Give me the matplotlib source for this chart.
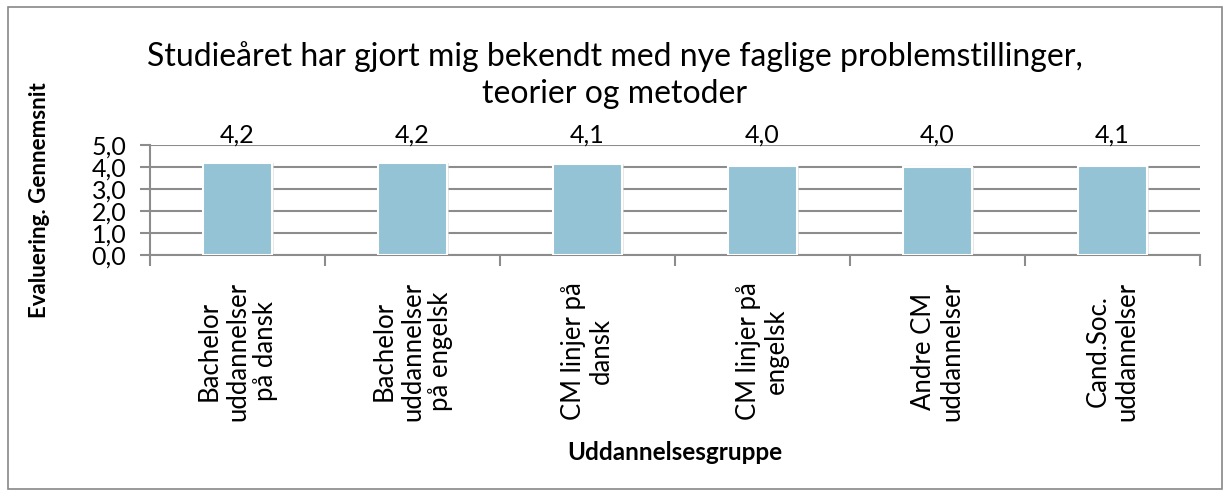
import matplotlib
matplotlib.use("Agg")
import matplotlib.pyplot as plt
from matplotlib.patches import Rectangle
import numpy as np

categories = ["Bachelor\nuddannelser\npå dansk", "Bachelor\nuddannelser\npå engelsk",
              "CM linjer på\ndansk", "CM linjer på\nengelsk",
              "Andre CM\nuddannelser", "Cand.Soc.\nuddannelser"]
values = [4.17, 4.16, 4.12, 4.03, 4.02, 4.06]
value_labels = ["4,2", "4,2", "4,1", "4,0", "4,0", "4,1"]
yticks = [0, 1, 2, 3, 4, 5]
ytick_labels = ["0,0", "1,0", "2,0", "3,0", "4,0", "5,0"]
title = "Studieåret har gjort mig bekendt med nye faglige problemstillinger,\nteorier og metoder"

plt.rcParams['font.family'] = ['Lato', 'DejaVu Sans']

W, H = 1230, 497
fig = plt.figure(figsize=(W/100, H/100), dpi=100)
ax = fig.add_axes([150/W, 1-255/H, 1050/W, 110/H])

x = np.arange(len(categories))
ax.bar(x+0.012, values, width=0.39, color="#d9d9d9", alpha=0.6, zorder=2, linewidth=0)
ax.bar(x, values, width=0.39, color="#93C3D5", edgecolor="white", linewidth=1.5, zorder=3)
ax.set_xlim(-0.5, len(categories)-0.5)
ax.set_ylim(0, 5)
ax.set_yticks(yticks)
ax.set_yticklabels(ytick_labels, fontsize=18)
ax.yaxis.grid(True, color="#8c8c8c", linewidth=1.5)
ax.set_axisbelow(True)
for s in ["top", "right"]:
    ax.spines[s].set_visible(False)
for s in ["left", "bottom"]:
    ax.spines[s].set_color("#8c8c8c")
    ax.spines[s].set_linewidth(1.5)
ax.tick_params(axis='y', length=7, width=1.5, color="#8c8c8c", pad=10)

ax.set_xticks(np.arange(-0.5, len(categories), 1.0))
ax.set_xticklabels([])
ax.tick_params(axis='x', length=8, width=1.5, color="#8c8c8c")
for xi, lab in zip(x, categories):
    ax.text(xi, -1.22, lab, rotation=90, ha='center', va='top', multialignment='center',
            fontsize=18.5, linespacing=1.15, transform=ax.transData, clip_on=False)

for xi, lab in zip(x, value_labels):
    ax.text(xi, 5.09, lab, ha='center', va='baseline', fontsize=18, clip_on=False)

fig.text(40/W, 1-200/H, "Evaluering. Gennemsnit", rotation=90, ha='center', va='center',
         fontsize=16, fontweight='bold')
fig.text(675/W, 1-452/H, "Uddannelsesgruppe", ha='center', va='center', fontsize=17.5, fontweight='bold')
fig.text(615/W, 1-75/H, title, ha='center', va='center', fontsize=23, linespacing=1.3)

fig.patches.append(Rectangle((8/W, 8/H), 1214/W, 482/H, transform=fig.transFigure,
                             fill=False, edgecolor="#888888", linewidth=1.2))

fig.savefig("out.png", dpi=100)
